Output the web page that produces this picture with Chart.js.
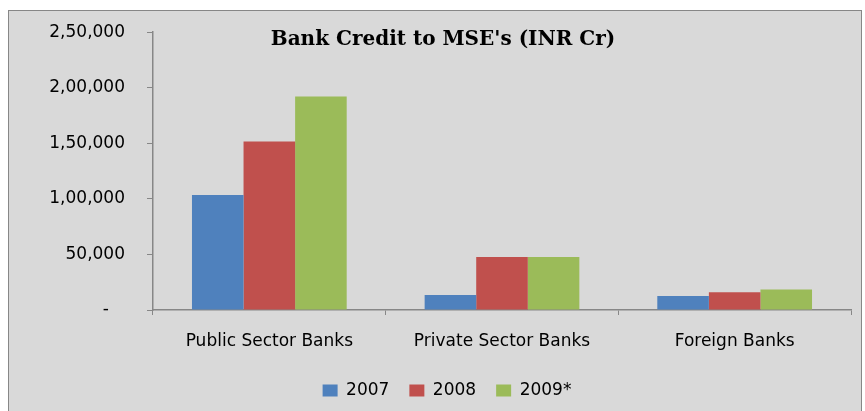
<!DOCTYPE html>
<html>
<head>
<meta charset="utf-8">
<script src="https://cdn.jsdelivr.net/npm/chart.js@4.4.0/dist/chart.umd.min.js"></script>
<style>
  html, body { margin: 0; padding: 0; background: #ffffff; }
  #wrap { position: relative; width: 865px; height: 411px; overflow: hidden; }
  #frame {
    position: absolute; left: 8px; top: 10px; width: 852px; height: 410px;
    background: #d9d9d9; border: 1px solid #878787;
  }
  #chart-box { position: absolute; left: 0; top: 0; width: 865px; height: 411px; }
</style>
</head>
<body>
<div id="wrap">
  <div id="frame"></div>
  <div id="chart-box"><canvas id="bank-chart"></canvas></div>
</div>
<script>
const categories = ["Public Sector Banks", "Private Sector Banks", "Foreign Banks"];
const seriesNames = ["2007", "2008", "2009*"];
const values2007 = [103500, 13500, 12500];
const values2008 = [151600, 47800, 16000];
const values2009 = [192200, 47800, 18500];
const yTicks = [0, 50000, 100000, 150000, 200000, 250000];
const chartTitle = "Bank Credit to MSE's (INR Cr)";

document.addEventListener("DOMContentLoaded", () => {
  const AXIS_COLOR = "#878787";
  const FONT_FAMILY = "'DejaVu Sans', sans-serif";

  // indian grouping: 2,50,000
  function formatIndian(value) {
    if (value === 0) return "-   ";
    const s = String(Math.round(value));
    if (s.length <= 3) return s;
    const last3 = s.slice(-3);
    let rest = s.slice(0, -3);
    const parts = [];
    while (rest.length > 2) {
      parts.unshift(rest.slice(-2));
      rest = rest.slice(0, -2);
    }
    if (rest) parts.unshift(rest);
    return parts.join(",") + "," + last3;
  }

  const titlePlugin = {
    id: "floatingTitle",
    afterDraw(chart) {
      const ctx = chart.ctx;
      ctx.save();
      ctx.font = "bold 20px 'DejaVu Serif', serif";
      ctx.fillStyle = "#000000";
      ctx.textAlign = "center";
      ctx.textBaseline = "alphabetic";
      ctx.fillText(chartTitle, 443, 45);
      ctx.restore();
    },
  };

  const ctx = document.getElementById("bank-chart").getContext("2d");
  new Chart(ctx, {
    type: "bar",
    data: {
      labels: categories,
      datasets: [
        { label: seriesNames[0], data: values2007, backgroundColor: "#4f81bd" },
        { label: seriesNames[1], data: values2008, backgroundColor: "#c0504d" },
        { label: seriesNames[2], data: values2009, backgroundColor: "#9bbb59" },
      ],
    },
    options: {
      responsive: true,
      maintainAspectRatio: false,
      animation: false,
      datasets: {
        bar: { barPercentage: 1, categoryPercentage: 0.665 },
      },
      layout: { padding: { left: 43, right: 14, top: 32, bottom: 2 } },
      scales: {
        x: {
          grid: {
            drawOnChartArea: false,
            drawTicks: true,
            tickLength: 5,
            color: AXIS_COLOR,
          },
          border: { display: true, color: AXIS_COLOR, width: 1.5 },
          ticks: {
            color: "#000000",
            padding: 16,
            font: { family: FONT_FAMILY, size: 17 },
          },
          afterFit: (scale) => { scale.height = 52; },
        },
        y: {
          min: 0,
          max: 250000,
          afterBuildTicks: (scale) => {
            scale.ticks = yTicks.map((v) => ({ value: v }));
          },
          grid: {
            drawOnChartArea: false,
            drawTicks: true,
            tickLength: 6,
            color: AXIS_COLOR,
          },
          border: { display: true, color: AXIS_COLOR, width: 1.5 },
          ticks: {
            color: "#000000",
            padding: 22,
            font: { family: FONT_FAMILY, size: 17 },
            callback: (value) => formatIndian(value),
          },
          afterFit: (scale) => { scale.width = 110; },
        },
      },
      plugins: {
        legend: {
          position: "bottom",
          labels: {
            color: "#000000",
            boxWidth: 15,
            boxHeight: 12,
            padding: 20,
            font: { family: FONT_FAMILY, size: 17 },
          },
        },
        tooltip: { enabled: false },
      },
    },
    plugins: [titlePlugin],
  });
});
</script>
</body>
</html>
